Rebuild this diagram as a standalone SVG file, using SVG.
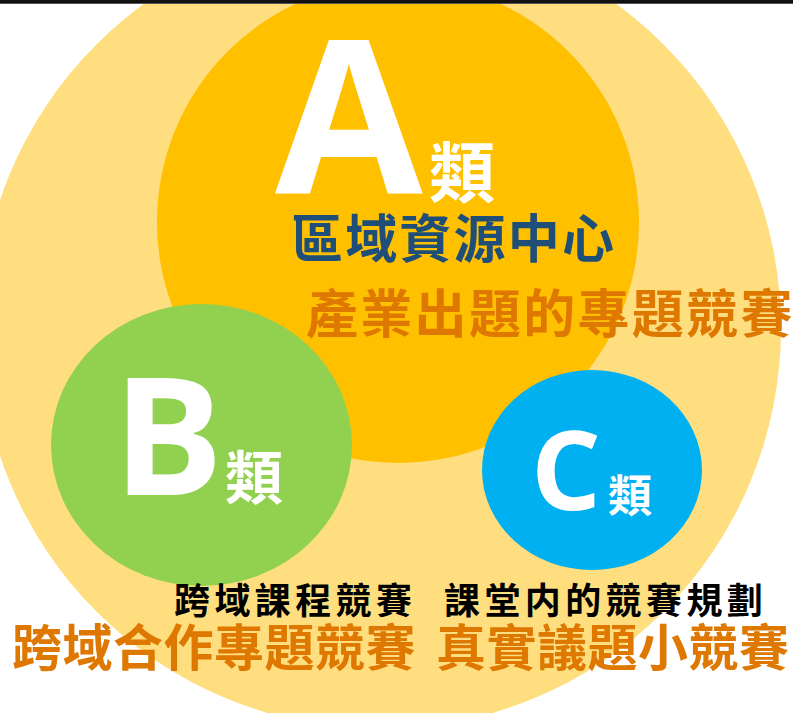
<svg xmlns="http://www.w3.org/2000/svg" width="793" height="713" viewBox="0 0 793 713">
<style>
.latin{font-family:"Open Sans","Liberation Sans",sans-serif;font-weight:700;fill:#FFFFFF}
.cjk{font-family:"Noto Sans CJK TC","Noto Sans CJK SC",sans-serif;font-weight:700}
.w{fill:#FFFFFF}
.blue{fill:#1F4E79}
.orange{fill:#DE7800}
.black{fill:#000000}
</style>
<rect x="0" y="0" width="793" height="713" fill="#FFFFFF"/>
<g id="outer">
<circle cx="380" cy="328" r="401" fill="#FFDE7F"/>
</g>
<g id="nodeA">
<circle cx="398" cy="222" r="241" fill="#FFC000"/>
<text class="latin" x="275" y="193" font-size="214">A</text>
<text class="cjk w" x="429" y="197" font-size="66">類</text>
<text class="cjk blue" x="291" y="258" font-size="52" letter-spacing="2.2">區域資源中心</text>
<text class="cjk orange" x="306" y="333" font-size="52" letter-spacing="2.3">產業出題的專題競賽</text>
</g>
<g id="nodeB">
<ellipse cx="201.5" cy="445" rx="150.5" ry="141" fill="#92D050"/>
<text class="latin" x="113" y="495" font-size="164">B</text>
<text class="cjk w" x="225" y="499" font-size="58">類</text>
</g>
<g id="nodeC">
<ellipse cx="592" cy="470" rx="110" ry="100" fill="#00B0F0"/>
<text class="latin" x="531" y="510" font-size="110">C</text>
<text class="cjk w" x="608" y="512" font-size="44">類</text>
</g>
<g id="labels">
<text class="cjk black" x="174" y="614" font-size="36" letter-spacing="4.4">跨域課程競賽</text>
<text class="cjk black" x="444" y="614" font-size="36" letter-spacing="4.4">課堂内的競賽規劃</text>
<text class="cjk orange" x="12" y="666" font-size="50" letter-spacing="0.5">跨域合作專題競賽</text>
<text class="cjk orange" x="436" y="666" font-size="50" letter-spacing="0.5">真實議題小競賽</text>
</g>
<g id="connectors"></g>
<rect x="0" y="0" width="793" height="3" fill="#111111"/>
<rect x="0" y="3" width="793" height="1" fill="#555555"/>
</svg>
